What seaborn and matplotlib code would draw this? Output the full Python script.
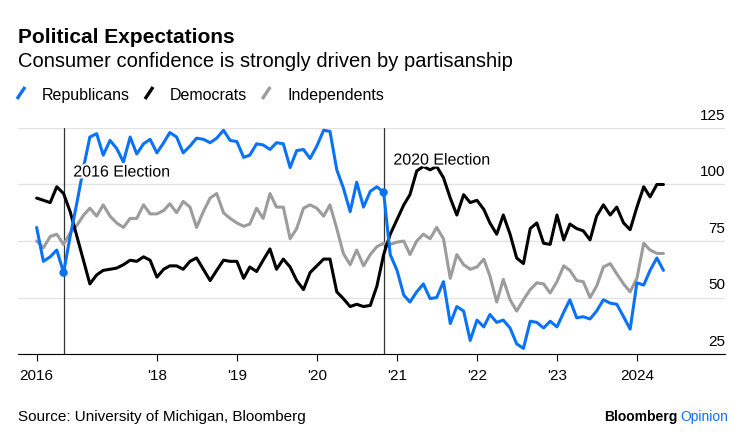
import pandas as pd
import matplotlib
matplotlib.use("Agg")
import matplotlib.pyplot as plt
import matplotlib.patheffects as pe
from matplotlib.lines import Line2D
from matplotlib import transforms
import seaborn as sns

# monthly index values, Jul 2016 - May 2024
months = pd.date_range("2016-07-01", periods=95, freq="MS")

republicans = [81, 66, 68, 71, 61, 77, 92, 108, 121, 122.5, 113, 119.5, 116, 110, 121, 113.5,
               118, 120, 114, 118.5, 123, 121, 114, 117, 120.5, 120, 118.5, 120.5, 124, 119.5, 119,
               112, 113, 118, 117.5, 115.5, 118.5, 118, 107.5, 115, 115.5, 111.5, 117, 124, 123.5,
               106.5, 98.5, 88, 101, 90, 97, 99, 96.5, 69, 62, 51, 48, 52.5, 56, 49.5, 50, 57,
               38.5, 46, 44, 31, 40, 37, 42.5, 39, 40, 36.5, 29.5, 27.5, 39.5, 39, 36.5, 39.5, 37,
               43.5, 49, 41, 41.5, 40.5, 44, 49, 47.5, 47, 41.5, 36, 56.5, 55.5, 62, 67.5, 62]

democrats = [94, 93, 92, 99, 96, 88, 77, 66, 56, 60, 62, 62.5, 63, 64.5, 66.5, 66,
             68, 66.5, 59, 62.5, 64, 64, 62.5, 66, 67.5, 62.5, 57.5, 62, 66.5, 66, 66,
             58.5, 63.5, 61.5, 66.5, 71.5, 62.5, 67, 63.5, 57.5, 53.5, 61, 64, 67, 67,
             52.5, 49.5, 46, 47, 46, 46.5, 55, 69, 78, 84.5, 91, 95.5, 106, 108, 106.5, 108, 103,
             94, 86.5, 95.5, 92, 93, 89, 83, 78, 86.5, 78, 67.5, 65, 80.5, 83, 74, 73.5, 86.5,
             75.5, 82.5, 80.5, 79.5, 75.5, 86, 91, 86.5, 90, 83, 80, 90, 99, 94.5, 100, 100]

independents = [75, 72, 77, 78, 73.5, 78.5, 82, 86.5, 89.5, 86, 91, 86, 83, 81, 85, 85,
                91, 87, 87, 88.5, 91.5, 87.5, 92.5, 90, 81, 88, 94, 96, 87.5, 85, 83,
                81.5, 82.5, 89.5, 85, 96, 90, 90, 76, 80.5, 89.5, 91, 89.5, 86, 91,
                80.5, 69.5, 64.5, 71, 64, 69, 72.5, 74, 73.5, 74.5, 75, 69, 75, 78, 76, 81, 76,
                58.5, 69, 64.5, 62.5, 63.5, 67, 59.5, 48, 58, 49, 44, 49, 53.5, 56.5, 56, 52, 57,
                64, 62, 57.5, 57, 50, 55, 63.5, 65, 60.5, 56, 52.5, 58.5, 74, 71, 69.5, 69.5]

series_names = ["Republicans", "Democrats", "Independents"]
series_colors = ["#0a72f5", "#000000", "#9c9c9c"]

elections = ["2016-11-01", "2020-11-01"]
election_labels = ["2016 Election", "2020 Election"]

xtick_dates = ["2016-07-01", "2018-01-01", "2019-01-01", "2020-01-01",
               "2021-01-01", "2022-01-01", "2023-01-01", "2024-01-01"]
xtick_labels = ["2016", "'18", "'19", "'20", "'21", "'22", "'23", "2024"]
yticks = [25, 50, 75, 100, 125]

df = pd.DataFrame({"date": months, "Republicans": republicans,
                   "Democrats": democrats, "Independents": independents})
df = df.melt(id_vars="date", var_name="party", value_name="value")

sns.set_theme(style="white")
plt.rcParams["font.family"] = ["Liberation Sans", "DejaVu Sans"]
plt.rcParams["text.color"] = "black"
plt.rcParams["xtick.color"] = "black"
plt.rcParams["ytick.color"] = "black"

W, H = 739, 439
fig = plt.figure(figsize=(W / 100, H / 100), dpi=100)
ax = fig.add_axes([18 / W, 1 - 355 / H, (725 - 18) / W, (355 - 129) / H])

palette = dict(zip(series_names, series_colors))
sns.lineplot(data=df, x="date", y="value", hue="party", palette=palette,
             hue_order=["Independents", "Democrats", "Republicans"],
             lw=2.2, legend=False, estimator=None, sort=False, ax=ax, zorder=3)

# dots on the Republican line at each election
rep = pd.Series(republicans, index=months)
edates = pd.to_datetime(elections)
sns.scatterplot(x=edates, y=rep.loc[edates].values, color=series_colors[0], s=36,
                edgecolor="none", zorder=5, ax=ax, legend=False)

label_y = [105.5, 110.8]
for d, lab, ly in zip(edates, election_labels, label_y):
    ax.axvline(d, color="#333333", lw=0.9, zorder=2)
    ax.annotate(lab, xy=(d, ly), xytext=(7, 0), textcoords="offset points",
                fontsize=11.5, va="center", ha="left", zorder=6, color="black",
                path_effects=[pe.withStroke(linewidth=3, foreground="white")])

ax.set_xlim(pd.Timestamp("2016-04-07"), pd.Timestamp("2025-02-06"))
ax.set_ylim(25, 125)
ax.set_yticks(yticks)
ax.set_yticklabels([])
ax.tick_params(axis="y", length=0, left=False, right=False)
ax.grid(axis="y", color="#e3e3e3", lw=1)
ax.set_axisbelow(True)

ax.set_xticks(pd.to_datetime(xtick_dates))
ax.set_xticklabels(xtick_labels, fontsize=11)
ax.tick_params(axis="x", bottom=True, length=5, width=0.8, color="black", pad=5,
               direction="out", labelcolor="black")
ax.set_xlabel("")
ax.set_ylabel("")
for s in ["top", "right", "left"]:
    ax.spines[s].set_visible(False)
ax.spines["bottom"].set_color("black")
ax.spines["bottom"].set_linewidth(0.8)

trans = transforms.offset_copy(
    transforms.blended_transform_factory(ax.transAxes, ax.transData),
    fig=fig, y=9, units="dots")
for v in yticks:
    ax.text(1.0, v, str(v), transform=trans, ha="right", va="baseline",
            fontsize=11, color="black")

# header
fig.text(18 / W, 1 - 43 / H, "Political Expectations", fontsize=15,
         fontweight="bold", va="baseline", color="black")
fig.text(18 / W, 1 - 67 / H, "Consumer confidence is strongly driven by partisanship",
         fontsize=14.5, va="baseline", color="black")

# legend
renderer = fig.canvas.get_renderer()
x = 17
for name, color in zip(series_names, series_colors):
    fig.add_artist(Line2D([x / W, (x + 8) / W], [1 - 100 / H, 1 - 88 / H],
                          color=color, lw=2.4, solid_capstyle="butt"))
    t = fig.text((x + 25) / W, 1 - 100 / H, name, fontsize=11.5, va="baseline",
                 color="black")
    bb = t.get_window_extent(renderer)
    x = bb.x1 + 15

# footer
fig.text(18 / W, 1 - 421 / H, "Source: University of Michigan, Bloomberg",
         fontsize=11, va="baseline", color="black")
op = fig.text(728 / W, 1 - 421 / H, "Opinion", fontsize=10, color=series_colors[0],
              ha="right", va="baseline")
bb = op.get_window_extent(renderer)
fig.text((bb.x0 - 3) / W, 1 - 421 / H, "Bloomberg", fontsize=10, fontweight="bold",
         ha="right", va="baseline", color="black")

fig.savefig("out.png", dpi=100)
